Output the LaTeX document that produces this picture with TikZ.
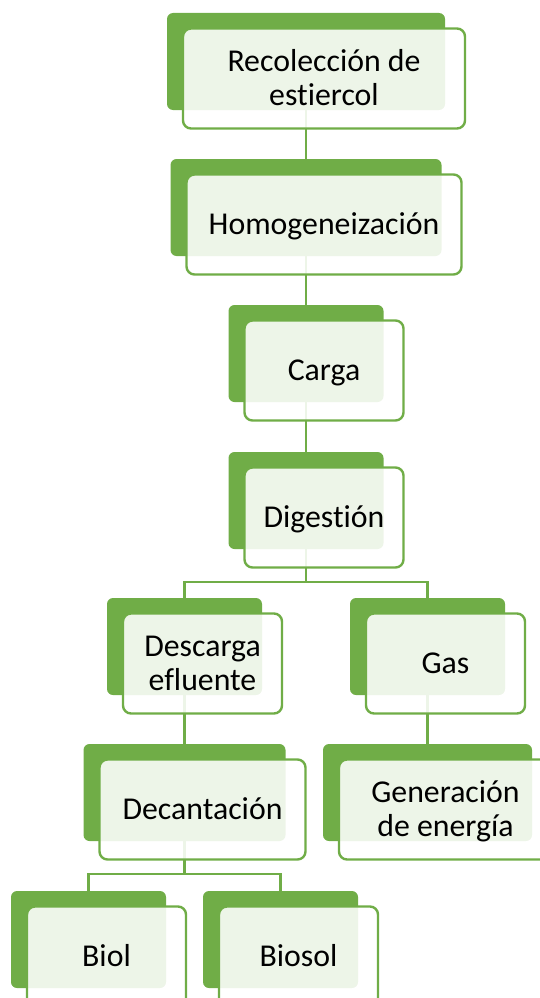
\documentclass[tikz,border=0pt]{standalone}
\usepackage{fontspec}
\setmainfont{Carlito}[Ligatures=NoCommon]
\definecolor{leaf}{HTML}{70AD47}
% stacked label lines, baseline of the block on its last line
\newcommand\stagetext[1]{\begin{tabular}[b]{@{}c@{}}#1\end{tabular}}
\begin{document}
\begin{tikzpicture}[x=1pt,y=-1pt,
  backbox/.style={rectangle, rounded corners=6pt, fill=leaf, inner sep=0pt,
    minimum height=97pt, minimum width=#1},
  frontbox/.style={rectangle, rounded corners=8pt, draw=leaf, line width=2.4pt,
    fill=white, fill opacity=0.88, text opacity=1, inner sep=0pt,
    minimum height=100pt, minimum width=#1,
    font=\fontsize{31.8}{34}\selectfont, text height=20pt, text depth=0pt},
  twolines/.style={text height=54pt},
  link/.style={draw=leaf, line width=2.4pt},
  lift/.style={shift={(18,17)}}]
\useasboundingbox (0,0) rectangle (539,998);

% solid green cards behind each stage
\node[backbox=278pt] (b1)  at (306,61.5)   {};
\node[backbox=271pt] (b2)  at (306,207.5)  {};
\node[backbox=155pt] (b3)  at (306,353.5)  {};
\node[backbox=155pt] (b4)  at (306,500.5)  {};
\node[backbox=155pt] (b5)  at (184.5,646.5) {};
\node[backbox=155pt] (b6)  at (427.5,646.5) {};
\node[backbox=202pt] (b7)  at (184.5,792.5) {};
\node[backbox=209pt] (b8)  at (427.5,792.5) {};
\node[backbox=155pt] (b9)  at (88.5,939.5)  {};
\node[backbox=155pt] (b10) at (280.5,939.5) {};

% connectors
\coordinate (j4) at ([yshift=-33pt]b4.south);
\coordinate (j7) at ([yshift=-33pt]b7.south);
\draw[link] (b1.south) -- (b2.north);
\draw[link] (b2.south) -- (b3.north);
\draw[link] (b3.south) -- (b4.north);
\draw[link] (b4.south) -- (j4);
\draw[link] (j4) -| (b5.north);
\draw[link] (j4) -| (b6.north);
\draw[link] (b5.south) -- (b7.north);
\draw[link] (b6.south) -- (b8.north);
\draw[link] (b7.south) -- (j7);
\draw[link] (j7) -| (b9.north);
\draw[link] (j7) -| (b10.north);

% translucent label cards in front
\node[frontbox=282pt, twolines] (f1) at ([lift]b1.center) {\stagetext{Recolección de\\estiercol}};
\node[frontbox=275pt] (f2)  at ([lift]b2.center)  {\stagetext{Homogeneización}};
\node[frontbox=159pt] (f3)  at ([lift]b3.center)  {\stagetext{Carga}};
\node[frontbox=159pt] (f4)  at ([lift]b4.center)  {\stagetext{Digestión}};
\node[frontbox=159pt, twolines] (f5) at ([lift]b5.center) {\stagetext{Descarga\\efluente}};
\node[frontbox=159pt] (f6)  at ([lift]b6.center)  {\stagetext{Gas}};
\node[frontbox=206pt] (f7)  at ([lift]b7.center)  {\stagetext{Decantación}};
\node[frontbox=213pt, twolines] (f8) at ([lift]b8.center) {\stagetext{Generación\\de energía}};
\node[frontbox=159pt] (f9)  at ([lift]b9.center)  {\stagetext{Biol}};
\node[frontbox=159pt] (f10) at ([lift]b10.center) {\stagetext{Biosol}};
\end{tikzpicture}
\end{document}
